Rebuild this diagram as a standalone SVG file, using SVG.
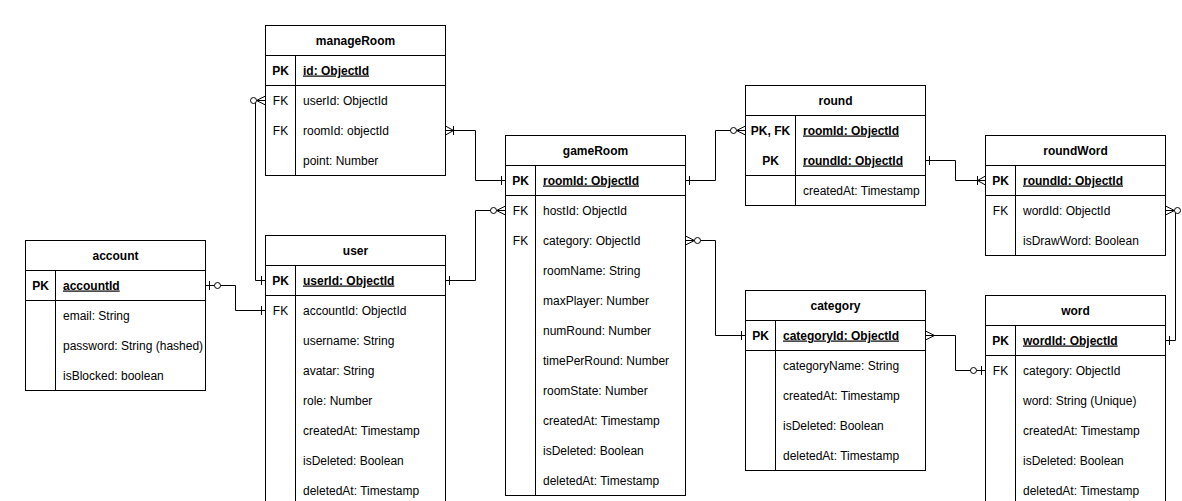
<svg xmlns="http://www.w3.org/2000/svg" width="1182" height="501" viewBox="0 0 1182 501">
<style>
.box{fill:#fff;stroke:#000;stroke-width:1}
.ln{stroke:#000;stroke-width:1;fill:none}
text{font-family:"Liberation Sans",Arial,sans-serif;font-size:12px;fill:#000}
.t{font-weight:bold;text-anchor:middle}
.k{text-anchor:middle}
.kb{text-anchor:middle;font-weight:bold}
.pk{font-weight:bold;text-decoration:underline}
.conn{stroke:#000;stroke-width:1;fill:none}
</style>
<defs>
<marker id="one" orient="auto-start-reverse" markerUnits="userSpaceOnUse" overflow="visible" markerWidth="1" markerHeight="1" refX="0" refY="0">
<path d="M-4,-4.5V4.5" stroke="#000" fill="none"/>
</marker>
<marker id="many" orient="auto-start-reverse" markerUnits="userSpaceOnUse" overflow="visible" markerWidth="1" markerHeight="1" refX="0" refY="0">
<path d="M0,-4.5L-9,0L0,4.5" stroke="#000" fill="none"/>
</marker>
<marker id="oneToMany" orient="auto-start-reverse" markerUnits="userSpaceOnUse" overflow="visible" markerWidth="1" markerHeight="1" refX="0" refY="0">
<path d="M0,-4.5L-8,0L0,4.5M-8,-4.5V4.5" stroke="#000" fill="none"/>
</marker>
<marker id="zeroToMany" orient="auto-start-reverse" markerUnits="userSpaceOnUse" overflow="visible" markerWidth="1" markerHeight="1" refX="0" refY="0">
<path d="M0,-4.5L-9,0L0,4.5" stroke="#000" fill="none"/>
<circle cx="-12" cy="0" r="3" fill="#fff" stroke="#000"/>
</marker>
<marker id="zeroToOne" orient="auto-start-reverse" markerUnits="userSpaceOnUse" overflow="visible" markerWidth="1" markerHeight="1" refX="0" refY="0">
<path d="M-4,-4.5V4.5" stroke="#000" fill="none"/>
<circle cx="-12" cy="0" r="3" fill="#fff" stroke="#000"/>
</marker>
</defs>
<rect width="1182" height="501" fill="#fff"/>

<g id="connectors">
<path class="conn" d="M265.5,100.5H255.5V280.5H265.5" marker-start="url(#zeroToMany)" marker-end="url(#one)"/>
<path class="conn" d="M445.5,130.5H475.5V180.5H505.5" marker-start="url(#oneToMany)" marker-end="url(#one)"/>
<path class="conn" d="M445.5,280.5H475.5V210.5H505.5" marker-start="url(#one)" marker-end="url(#zeroToMany)"/>
<path class="conn" d="M205.5,285.5H235.5V310.5H265.5" marker-start="url(#zeroToOne)" marker-end="url(#one)"/>
<path class="conn" d="M685.5,180.5H715.5V130.5H745.5" marker-start="url(#one)" marker-end="url(#zeroToMany)"/>
<path class="conn" d="M685.5,240.5H715.5V335.5H745.5" marker-start="url(#zeroToMany)" marker-end="url(#one)"/>
<path class="conn" d="M925.5,160.5H955.5V180.5H985.5" marker-start="url(#one)" marker-end="url(#oneToMany)"/>
<path class="conn" d="M1165.5,210.5H1175.5V340.5H1165.5" marker-start="url(#zeroToMany)" marker-end="url(#one)"/>
<path class="conn" d="M925.5,335.5H955.5V370.5H985.5" marker-start="url(#many)" marker-end="url(#zeroToOne)"/>
</g>

<g id="manageRoom">
<rect class="box" x="265.5" y="25.5" width="180" height="150"/>
<path class="ln" d="M265.5,55.5H445.5M265.5,85.5H445.5M295.5,55.5V175.5"/>
<text class="t" x="355.5" y="44.5">manageRoom</text>
<text class="kb" x="280.5" y="74.5">PK</text>
<text class="pk" x="303" y="74.5">id: ObjectId</text>
<text class="k" x="280.5" y="104.5">FK</text>
<text x="303" y="104.5">userId: ObjectId</text>
<text class="k" x="280.5" y="134.5">FK</text>
<text x="303" y="134.5">roomId: objectId</text>
<text x="303" y="164.5">point: Number</text>
</g>

<g id="user">
<rect class="box" x="265.5" y="235.5" width="180" height="270"/>
<path class="ln" d="M265.5,265.5H445.5M265.5,295.5H445.5M295.5,265.5V505.5"/>
<text class="t" x="355.5" y="254.5">user</text>
<text class="kb" x="280.5" y="284.5">PK</text>
<text class="pk" x="303" y="284.5">userId: ObjectId</text>
<text class="k" x="280.5" y="314.5">FK</text>
<text x="303" y="314.5">accountId: ObjectId</text>
<text x="303" y="344.5">username: String</text>
<text x="303" y="374.5">avatar: String</text>
<text x="303" y="404.5">role: Number</text>
<text x="303" y="434.5">createdAt: Timestamp</text>
<text x="303" y="464.5">isDeleted: Boolean</text>
<text x="303" y="494.5">deletedAt: Timestamp</text>
</g>

<g id="account">
<rect class="box" x="25.5" y="240.5" width="180" height="150"/>
<path class="ln" d="M25.5,270.5H205.5M25.5,300.5H205.5M55.5,270.5V390.5"/>
<text class="t" x="115.5" y="259.5">account</text>
<text class="kb" x="40.5" y="289.5">PK</text>
<text class="pk" x="63" y="289.5">accountId</text>
<text x="63" y="319.5">email: String</text>
<text x="63" y="349.5">password: String (hashed)</text>
<text x="63" y="379.5">isBlocked: boolean</text>
</g>

<g id="gameRoom">
<rect class="box" x="505.5" y="135.5" width="180" height="360"/>
<path class="ln" d="M505.5,165.5H685.5M505.5,195.5H685.5M535.5,165.5V495.5"/>
<text class="t" x="595.5" y="154.5">gameRoom</text>
<text class="kb" x="520.5" y="184.5">PK</text>
<text class="pk" x="543" y="184.5">roomId: ObjectId</text>
<text class="k" x="520.5" y="214.5">FK</text>
<text x="543" y="214.5">hostId: ObjectId</text>
<text class="k" x="520.5" y="244.5">FK</text>
<text x="543" y="244.5">category: ObjectId</text>
<text x="543" y="274.5">roomName: String</text>
<text x="543" y="304.5">maxPlayer: Number</text>
<text x="543" y="334.5">numRound: Number</text>
<text x="543" y="364.5">timePerRound: Number</text>
<text x="543" y="394.5">roomState: Number</text>
<text x="543" y="424.5">createdAt: Timestamp</text>
<text x="543" y="454.5">isDeleted: Boolean</text>
<text x="543" y="484.5">deletedAt: Timestamp</text>
</g>

<g id="round">
<rect class="box" x="745.5" y="85.5" width="180" height="120"/>
<path class="ln" d="M745.5,115.5H925.5M745.5,175.5H925.5M795.5,115.5V205.5"/>
<text class="t" x="835.5" y="104.5">round</text>
<text class="kb" x="770.5" y="134.5">PK, FK</text>
<text class="pk" x="803" y="134.5">roomId: ObjectId</text>
<text class="kb" x="770.5" y="164.5">PK</text>
<text class="pk" x="803" y="164.5">roundId: ObjectId</text>
<text x="803" y="194.5">createdAt: Timestamp</text>
</g>

<g id="roundWord">
<rect class="box" x="985.5" y="135.5" width="180" height="120"/>
<path class="ln" d="M985.5,165.5H1165.5M985.5,195.5H1165.5M1015.5,165.5V255.5"/>
<text class="t" x="1075.5" y="154.5">roundWord</text>
<text class="kb" x="1000.5" y="184.5">PK</text>
<text class="pk" x="1023" y="184.5">roundId: ObjectId</text>
<text class="k" x="1000.5" y="214.5">FK</text>
<text x="1023" y="214.5">wordId: ObjectId</text>
<text x="1023" y="244.5">isDrawWord: Boolean</text>
</g>

<g id="category">
<rect class="box" x="745.5" y="290.5" width="180" height="180"/>
<path class="ln" d="M745.5,320.5H925.5M745.5,350.5H925.5M775.5,320.5V470.5"/>
<text class="t" x="835.5" y="309.5">category</text>
<text class="kb" x="760.5" y="339.5">PK</text>
<text class="pk" x="783" y="339.5">categoryId: ObjectId</text>
<text x="783" y="369.5">categoryName: String</text>
<text x="783" y="399.5">createdAt: Timestamp</text>
<text x="783" y="429.5">isDeleted: Boolean</text>
<text x="783" y="459.5">deletedAt: Timestamp</text>
</g>

<g id="word">
<rect class="box" x="985.5" y="295.5" width="180" height="210"/>
<path class="ln" d="M985.5,325.5H1165.5M985.5,355.5H1165.5M1015.5,325.5V505.5"/>
<text class="t" x="1075.5" y="314.5">word</text>
<text class="kb" x="1000.5" y="344.5">PK</text>
<text class="pk" x="1023" y="344.5">wordId: ObjectId</text>
<text class="k" x="1000.5" y="374.5">FK</text>
<text x="1023" y="374.5">category: ObjectId</text>
<text x="1023" y="404.5">word: String (Unique)</text>
<text x="1023" y="434.5">createdAt: Timestamp</text>
<text x="1023" y="464.5">isDeleted: Boolean</text>
<text x="1023" y="494.5">deletedAt: Timestamp</text>
</g>
</svg>
